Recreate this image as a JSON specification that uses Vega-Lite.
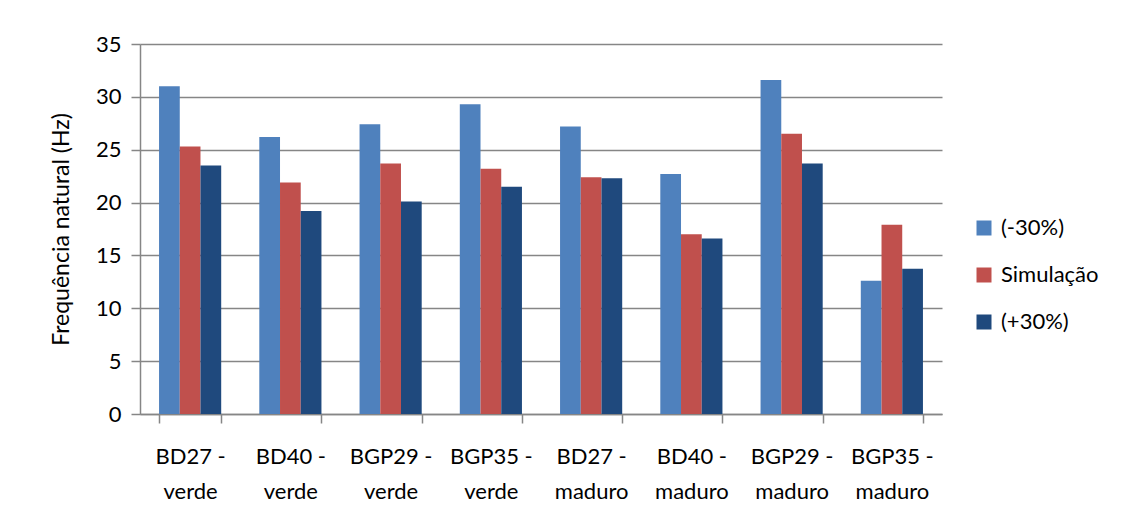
{
  "$schema": "https://vega.github.io/schema/vega-lite/v6.json",
  "width": 802,
  "height": 370,
  "autosize": {"type": "none"},
  "padding": {"left": 140, "top": 44, "right": 189, "bottom": 110},
  "background": "white",
  "config": {
    "font": "Lato",
    "view": {"stroke": null}
  },
  "data": {
    "values": [
      {"categoria": "BD27 - verde", "serie": "(-30%)", "valor": 31.0},
      {"categoria": "BD27 - verde", "serie": "Simulação", "valor": 25.3},
      {"categoria": "BD27 - verde", "serie": "(+30%)", "valor": 23.5},
      {"categoria": "BD40 - verde", "serie": "(-30%)", "valor": 26.2},
      {"categoria": "BD40 - verde", "serie": "Simulação", "valor": 21.9},
      {"categoria": "BD40 - verde", "serie": "(+30%)", "valor": 19.2},
      {"categoria": "BGP29 - verde", "serie": "(-30%)", "valor": 27.4},
      {"categoria": "BGP29 - verde", "serie": "Simulação", "valor": 23.7},
      {"categoria": "BGP29 - verde", "serie": "(+30%)", "valor": 20.1},
      {"categoria": "BGP35 - verde", "serie": "(-30%)", "valor": 29.3},
      {"categoria": "BGP35 - verde", "serie": "Simulação", "valor": 23.2},
      {"categoria": "BGP35 - verde", "serie": "(+30%)", "valor": 21.5},
      {"categoria": "BD27 - maduro", "serie": "(-30%)", "valor": 27.2},
      {"categoria": "BD27 - maduro", "serie": "Simulação", "valor": 22.4},
      {"categoria": "BD27 - maduro", "serie": "(+30%)", "valor": 22.3},
      {"categoria": "BD40 - maduro", "serie": "(-30%)", "valor": 22.7},
      {"categoria": "BD40 - maduro", "serie": "Simulação", "valor": 17.0},
      {"categoria": "BD40 - maduro", "serie": "(+30%)", "valor": 16.6},
      {"categoria": "BGP29 - maduro", "serie": "(-30%)", "valor": 31.6},
      {"categoria": "BGP29 - maduro", "serie": "Simulação", "valor": 26.5},
      {"categoria": "BGP29 - maduro", "serie": "(+30%)", "valor": 23.7},
      {"categoria": "BGP35 - maduro", "serie": "(-30%)", "valor": 12.6},
      {"categoria": "BGP35 - maduro", "serie": "Simulação", "valor": 17.9},
      {"categoria": "BGP35 - maduro", "serie": "(+30%)", "valor": 13.75}
    ]
  },
  "mark": {"type": "bar"},
  "encoding": {
    "x": {
      "field": "categoria",
      "type": "nominal",
      "sort": null,
      "scale": {"paddingInner": 0.38, "paddingOuter": 0.19},
      "axis": {
        "title": null,
        "labelAngle": 0,
        "labelExpr": "[slice(datum.label, 0, indexof(datum.label, '-') + 1), slice(datum.label, indexof(datum.label, '-') + 2)]",
        "labelFontSize": 22,
        "labelColor": "black",
        "labelLineHeight": 35,
        "labelPadding": 23,
        "labelBaseline": "top",
        "tickBand": "extent",
        "tickSize": 9,
        "tickColor": "#868686",
        "domainColor": "#868686",
        "domainWidth": 1.5,
        "tickWidth": 1.5,
        "grid": false
      }
    },
    "xOffset": {
      "field": "serie",
      "type": "nominal",
      "sort": ["(-30%)", "Simulação", "(+30%)"]
    },
    "y": {
      "field": "valor",
      "type": "quantitative",
      "scale": {"domain": [0, 35]},
      "axis": {
        "title": "Frequência natural (Hz)",
        "titleFontSize": 23,
        "titleFontWeight": "normal",
        "titleColor": "black",
        "titlePadding": 22,
        "values": [0, 5, 10, 15, 20, 25, 30, 35],
        "labelOverlap": false,
        "labelFontSize": 22,
        "labelColor": "black",
        "labelPadding": 10,
        "tickSize": 9,
        "tickColor": "#868686",
        "tickWidth": 1.5,
        "domainColor": "#868686",
        "domainWidth": 1.5,
        "gridColor": "#868686",
        "gridWidth": 1.5
      }
    },
    "color": {
      "field": "serie",
      "type": "nominal",
      "sort": ["(-30%)", "Simulação", "(+30%)"],
      "scale": {
        "domain": ["(-30%)", "Simulação", "(+30%)"],
        "range": ["#4F81BD", "#C0504D", "#1F497D"]
      },
      "legend": {
        "title": null,
        "orient": "none",
        "legendX": 833,
        "legendY": 173,
        "symbolType": "square",
        "symbolSize": 225,
        "symbolStrokeWidth": 0,
        "labelFontSize": 22,
        "labelColor": "black",
        "rowPadding": 25,
        "labelOffset": 6
      }
    }
  }
}
